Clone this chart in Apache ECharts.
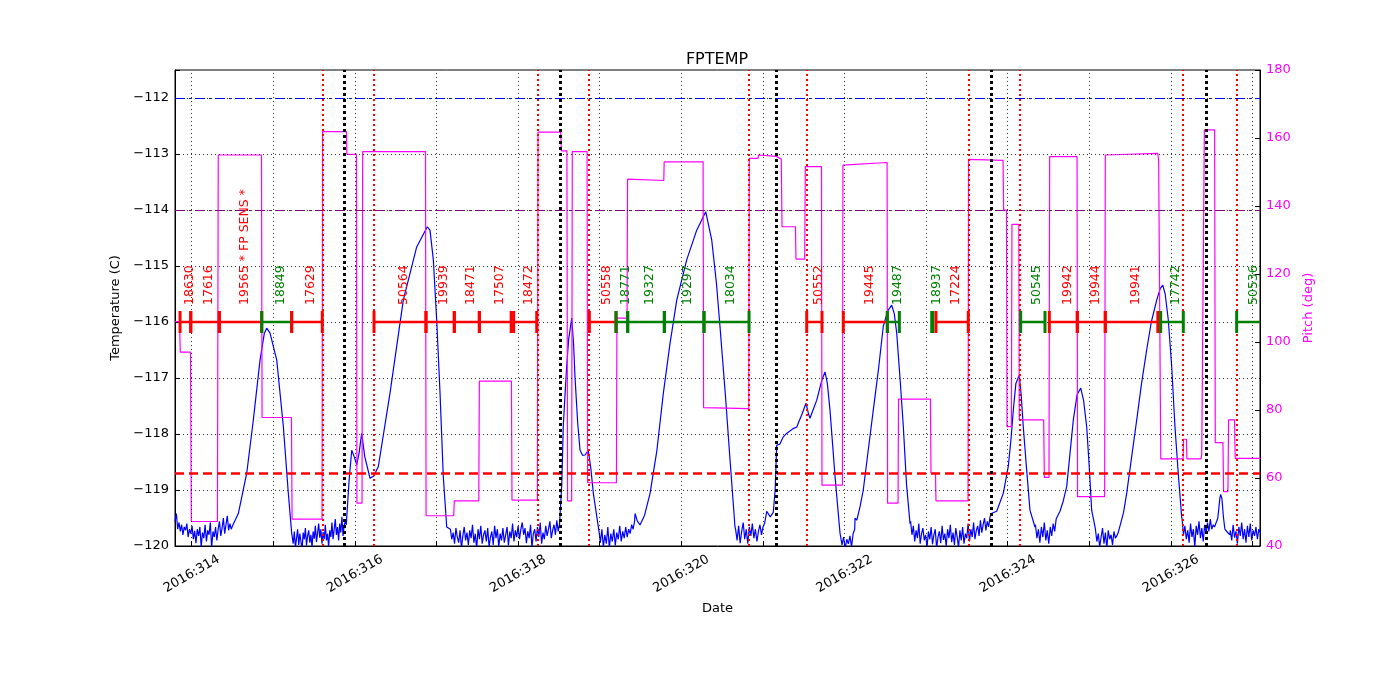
<!DOCTYPE html>
<html><head><meta charset="utf-8">
<script src="https://cdn.jsdelivr.net/npm/echarts@6/dist/echarts.min.js"></script>
<style>html,body{margin:0;padding:0;background:#fff}#c{width:1400px;height:700px}</style>
</head><body><div id="c"></div>
<script>
// ---------- axis ticks ----------
const xTickDays = [314,315,316,317,318,319,320,321,322,323,324,325,326,327];
const xLabelDays = [314,316,318,320,322,324,326];
const tempGrid = [-119,-118,-117,-116,-115,-114,-113,-112];

// ---------- reference lines ----------
const tempRefBlue = -112;
const tempRefPurple = -114;
const planLimit = -118.7;
const redEventDays = [315.600,316.234,318.238,318.873,320.833,321.537,323.517,324.150,326.152,326.806];
const blackEventDays = [315.866,318.522,321.157,323.804,326.430];

// ---------- pitch (deg) ----------
const pitch = [[313.795,106],[313.85,106],[313.86,97],[313.985,97],[313.995,47.2],[314.315,47.2],[314.325,155],[314.855,155],[314.862,77.8],[315.222,77.8],[315.23,47.9],[315.597,47.9],[315.604,161.9],[315.896,161.9],[315.902,155.2],[316.018,155.2],[316.025,52.6],[316.087,52.6],[316.095,156],[316.865,156],[316.872,48.9],[317.21,48.9],[317.218,53.3],[317.518,53.3],[317.525,88.5],[317.918,88.5],[317.925,53.5],[318.236,53.5],[318.244,161.7],[318.522,161.7],[318.53,156.2],[318.598,156.2],[318.606,53.3],[318.656,53.3],[318.664,156],[318.845,156],[318.852,58.6],[319.205,58.6],[319.211,107],[319.335,107],[319.341,147.9],[319.785,147.5],[319.79,153],[320.267,153],[320.273,80.7],[320.827,80.4],[320.833,154],[320.94,154],[320.948,155],[321.165,154.6],[321.225,153.8],[321.234,133.9],[321.399,133.9],[321.405,124.4],[321.512,124.4],[321.52,151.6],[321.718,151.6],[321.724,57.9],[321.975,57.9],[321.981,152],[322.522,152.8],[322.528,52.6],[322.656,52.6],[322.662,83.2],[323.053,83.2],[323.06,61.4],[323.115,61.4],[323.121,53.3],[323.514,53.3],[323.52,153.7],[323.943,153.4],[323.95,138.8],[323.985,138.8],[323.992,75.1],[324.045,75.1],[324.052,134.6],[324.136,134.6],[324.142,77.1],[324.441,77.1],[324.449,60.2],[324.506,60.2],[324.514,154.5],[324.85,154.5],[324.856,54.5],[325.188,54.5],[325.196,155],[325.84,155.5],[325.85,153],[325.876,65.6],[326.15,65.6],[326.155,71.4],[326.19,71.4],[326.196,65.6],[326.37,65.6],[326.378,67],[326.402,67],[326.41,162.4],[326.536,162.4],[326.544,70.4],[326.638,70.4],[326.646,56],[326.699,56],[326.707,77.1],[326.78,77.1],[326.788,65.8],[327.1,65.8]];

// ---------- temperature (C): quiet (noisy) stretches ----------
const quiet1 = [-119.55,-119.42,-119.70,-119.58,-119.74,-119.62,-119.80,-119.66,-119.72,-119.60,-119.84,-119.70,-119.78,-119.64,-119.88,-119.73,-119.95,-119.70,-119.82,-119.66,-120.02,-119.76,-119.86,-119.62,-119.92,-119.72,-119.80,-119.58,-120.04,-119.74,-119.84,-119.66,-119.90,-119.70,-119.56,-119.82,-119.68,-119.50,-119.78,-119.62,-119.46,-119.72,-119.60,-119.70,-119.64];
const quiet2 = [-119.82,-119.96,-119.74,-120.04,-119.86,-119.70,-119.98,-119.78,-119.92,-120.06,-119.76,-119.88,-119.68,-119.99,-119.82,-119.72,-119.94,-119.80,-120.03,-119.74,-119.87,-119.64,-119.93,-119.77,-119.60,-119.85,-119.70,-119.96,-119.75,-119.88,-119.62,-119.90,-119.78,-120.02,-119.72,-119.84,-119.58,-119.88,-119.70,-119.52,-119.80,-119.66,-119.90,-119.60,-119.76,-119.48,-119.82,-119.64,-119.55,-119.62];
const quiet3 = [-119.70,-119.88,-119.76,-119.96,-119.68,-119.84,-119.94,-119.72,-120.04,-119.82,-119.66,-119.90,-119.76,-119.98,-119.72,-119.86,-119.62,-119.94,-119.78,-120.05,-119.70,-119.88,-119.64,-119.96,-119.80,-119.72,-119.92,-119.68,-120.02,-119.84,-119.74,-119.98,-119.64,-119.86,-119.70,-120.02,-119.78,-119.90,-119.68,-119.94,-119.80,-119.66,-119.99,-119.74,-119.86,-119.60,-119.92,-119.72,-119.84,-119.64,-119.88,-119.70,-119.58,-119.80,-119.68,-119.95,-119.74,-119.86,-119.62,-120.03,-119.78,-119.70,-119.92,-119.66,-119.84,-119.58,-119.96,-119.76,-119.88,-119.64,-119.82,-119.70,-119.56,-119.86,-119.72,-119.62,-119.80,-119.54,-119.74,-119.60];
const quiet4 = [-119.72,-119.94,-119.70,-120.02,-119.80,-119.96,-119.66,-120.04,-119.78,-119.92,-119.70,-119.99,-119.76,-119.88,-119.64,-119.92,-119.74,-119.86,-119.66,-119.84,-119.70,-119.78,-119.62,-119.70,-119.55];
const quiet5 = [-119.70,-119.90,-119.64,-119.95,-119.74,-119.58,-119.88,-119.70,-119.96,-119.66,-119.82,-119.60,-119.86,-119.70,-119.92,-119.74,-119.62,-119.80,-119.66,-119.60];
const quiet6 = [-119.80,-119.98,-119.84,-120.05,-119.88,-119.96,-119.82,-120.02,-119.78,-119.70];
const quiet7 = [-119.56,-119.80,-119.64,-119.92,-119.72,-119.86,-119.60,-119.96,-119.78,-119.68,-119.90,-119.80,-120.02,-119.74,-119.88,-119.66,-119.97,-119.80,-119.70,-120.04,-119.84,-119.74,-119.95,-119.64,-119.89,-119.78,-120.00,-119.70,-119.86,-119.62,-119.93,-119.76,-119.98,-119.68,-119.84,-120.03,-119.72,-119.90,-119.66,-119.96,-119.78,-119.86,-119.60,-119.92,-119.70,-119.84,-119.58,-119.88,-119.72,-119.64,-119.82,-119.54,-119.76,-119.62,-119.50,-119.72,-119.56,-119.66,-119.48,-119.42];
const quiet8 = [-119.62,-119.86,-119.70,-119.94,-119.66,-119.84,-119.58,-119.90,-119.72,-119.96,-119.66,-119.82,-119.60,-119.74,-119.52,-119.50];
const quiet9 = [-119.70,-119.92,-119.78,-120.02,-119.84,-119.68,-119.96,-119.76,-120.04,-119.72,-119.88,-119.80,-119.98,-119.74,-119.86,-119.82,-119.76,-119.78];
const quiet10 = [-119.52,-119.80,-119.64,-119.88,-119.72,-119.94,-119.60,-119.84,-119.70,-120.02,-119.64,-119.80,-119.56,-119.86,-119.68,-119.92,-119.62,-119.78,-119.58,-119.74,-119.52,-119.70,-119.62,-119.66];
const quiet11 = [-119.72,-119.90,-119.62,-119.85,-119.74,-119.96,-119.66,-119.82,-119.58,-119.88,-119.70,-119.94,-119.64,-119.84,-119.60,-119.90,-119.72,-119.82,-119.66,-119.88,-119.70,-119.76];
// time spans of the quiet stretches [start, end]
const quietSpans = [[313.796,314.50],[315.23,315.895],[317.17,318.508],[318.99,319.428],[320.665,321.02],[321.95,322.125],[322.81,323.80],[324.34,324.612],[325.075,325.372],[326.137,326.535],[326.728,327.095]];

// ---------- temperature (C): warm-up excursions ----------
const rise1 = [[314.51,-119.66],[314.571,-119.42],[314.674,-118.70],[314.755,-117.75],[314.837,-116.68],[314.89,-116.20],[314.919,-116.11],[314.96,-116.2],[315.042,-116.68],[315.123,-117.87],[315.184,-119.06],[315.225,-119.77]];
const rise2 = [[315.899,-119.5],[315.93,-118.8],[315.961,-118.29],[315.99,-118.4],[316.022,-118.55],[316.05,-118.35],[316.083,-117.99],[316.12,-118.4],[316.185,-118.79],[316.23,-118.75],[316.287,-118.58],[316.43,-117.27],[316.593,-115.61],[316.757,-114.66],[316.887,-114.30],[316.92,-114.36],[316.961,-114.89],[317.002,-115.96],[317.043,-117.27],[317.083,-118.76],[317.125,-119.66]];
const rise3 = [[318.513,-119.6],[318.535,-118.9],[318.553,-117.87],[318.575,-117.3],[318.595,-116.80],[318.62,-116.3],[318.657,-115.93],[318.68,-116.4],[318.697,-116.98],[318.73,-117.8],[318.759,-118.29],[318.79,-118.38],[318.82,-118.375],[318.86,-118.29],[318.89,-118.6],[318.922,-119.06],[318.983,-119.66]];
const rise4 = [[319.433,-119.42],[319.46,-119.55],[319.494,-119.625],[319.55,-119.45],[319.617,-119.06],[319.70,-118.3],[319.78,-117.27],[319.86,-116.4],[319.944,-115.61],[320.066,-114.89],[320.189,-114.36],[320.299,-114.03],[320.373,-114.54],[320.43,-115.3],[320.474,-116.08],[320.54,-117.3],[320.597,-118.46],[320.658,-119.66]];
const rise5 = [[321.026,-119.6],[321.047,-119.38],[321.09,-119.48],[321.127,-119.40],[321.15,-119.0],[321.169,-118.20],[321.208,-118.18],[321.25,-118.05],[321.29,-117.99],[321.373,-117.90],[321.414,-117.88],[321.44,-117.78],[321.475,-117.66],[321.528,-117.45],[321.555,-117.62],[321.577,-117.72],[321.62,-117.55],[321.659,-117.40],[321.72,-117.05],[321.761,-116.89],[321.79,-117.1],[321.822,-117.57],[321.884,-118.76],[321.945,-119.77]];
const rise6 = [[322.129,-119.5],[322.15,-119.54],[322.19,-119.3],[322.23,-119.0],[322.29,-118.3],[322.353,-117.57],[322.42,-116.8],[322.475,-116.08],[322.53,-115.8],[322.578,-115.70],[322.61,-115.85],[322.64,-116.2],[322.68,-117.0],[322.721,-117.87],[322.76,-118.9],[322.803,-119.6]];
const rise7 = [[323.804,-119.39],[323.865,-119.38],[323.946,-119.06],[324.007,-118.58],[324.04,-118.1],[324.069,-117.57],[324.10,-117.1],[324.142,-116.95],[324.165,-117.3],[324.191,-117.87],[324.23,-118.6],[324.273,-119.36],[324.334,-119.66]];
const rise8 = [[324.616,-119.45],[324.641,-119.38],[324.68,-119.2],[324.723,-118.94],[324.76,-118.4],[324.804,-117.75],[324.85,-117.3],[324.895,-117.18],[324.93,-117.4],[324.968,-117.87],[325.0,-118.6],[325.029,-119.36],[325.070,-119.66]];
const rise9 = [[325.377,-119.74],[325.42,-119.4],[325.458,-119.06],[325.52,-118.4],[325.581,-117.75],[325.64,-117.1],[325.703,-116.5],[325.76,-116.0],[325.826,-115.61],[325.87,-115.4],[325.90,-115.34],[325.93,-115.5],[325.968,-115.96],[326.01,-116.8],[326.05,-117.87],[326.09,-118.7],[326.132,-119.48]];
const rise10 = [[326.540,-119.68],[326.575,-119.5],[326.60,-119.15],[326.61,-119.08],[326.625,-119.15],[326.645,-119.5],[326.662,-119.7],[326.69,-119.75],[326.723,-119.8]];

// ---------- observations ----------
const obsIds = ['18630','17616','19565 * FP SENS *','18849','17629','50564','19939','18471','17507','18472','50558','18771','19327','19297','18034','50552','19445','19487','18937','17224','50545','19942','19944','19941','17742','50536'];
const obsStart = [313.857,313.988,314.338,314.858,315.225,316.234,316.871,317.218,317.525,317.945,318.873,319.200,319.343,319.792,320.278,321.537,321.985,322.525,323.069,323.121,324.159,324.510,324.853,325.196,325.875,326.806];
const obsStop  = [313.988,314.338,314.858,315.225,315.600,316.871,317.218,317.525,317.915,318.228,319.200,319.343,319.792,320.278,320.830,321.724,322.525,322.672,323.082,323.517,324.457,324.853,325.196,325.840,326.152,327.116];
const obsKind  = ['A','A','A','B','A','A','A','A','A','A','A','B','B','B','B','A','A','B','B','A','B','A','A','A','B','B'];
const obsLevel = -116;

// ---------- build ----------
function spread(span, vals){ return vals.map((v,i)=>[span[0]+(span[1]-span[0])*i/(vals.length-1), v]); }
const quiets = [quiet1,quiet2,quiet3,quiet4,quiet5,quiet6,quiet7,quiet8,quiet9,quiet10,quiet11];
const rises = [rise1,rise2,rise3,rise4,rise5,rise6,rise7,rise8,rise9,rise10];
let tempTrace = [];
for (let i=0;i<quiets.length;i++){
  tempTrace = tempTrace.concat(spread(quietSpans[i], quiets[i]));
  if (i<rises.length) tempTrace = tempTrace.concat(rises[i]);
}

const FONT = 'DejaVu Sans';
const gridStyle = {color:'#000', width:0.8, type:[1,3]};
const kindColor = {A:'#ff0000', B:'#008000'};
const minus = v => String(v).replace('-', '\u2212');

const chart = echarts.init(document.getElementById('c'), null, {renderer:'canvas'});
chart.setOption({
  animation:false,
  backgroundColor:'#fff',
  textStyle:{fontFamily:FONT},
  title:{text:'FPTEMP', left:712, top:47, textAlign:'center', textStyle:{fontFamily:FONT, fontSize:16, fontWeight:'normal', color:'#000'}},
  grid:{left:175, right:140, top:70, bottom:154, show:true, borderColor:'#000', borderWidth:1, backgroundColor:'transparent'},
  xAxis:{type:'value', min:313.795, max:327.092,
    name:'Date', nameLocation:'middle', nameGap:56, nameTextStyle:{fontFamily:FONT, fontSize:13, color:'#000'},
    axisLine:{lineStyle:{color:'#000', width:1}},
    axisTick:{inside:true, length:5, customValues:xTickDays, lineStyle:{color:'#000'}},
    axisLabel:{customValues:xLabelDays, formatter:v=>'2016:'+Math.round(v), rotate:30, align:'center', verticalAlign:'middle', margin:28, fontFamily:FONT, fontSize:13, color:'#000'},
    splitLine:{show:false}},
  yAxis:[
    {type:'value', min:-120, max:-111.5, interval:1, position:'left',
     name:'Temperature (C)', nameLocation:'middle', nameRotate:90, nameGap:50, nameTextStyle:{fontFamily:FONT, fontSize:13, color:'#000'},
     axisLine:{show:true, lineStyle:{color:'#000'}},
     axisTick:{show:true, inside:true, length:5, lineStyle:{color:'#000'}},
     axisLabel:{formatter:v=>Number.isInteger(v)?minus(v):'', margin:6, fontFamily:FONT, fontSize:13, color:'#000'},
     splitLine:{show:false}},
    {type:'value', min:40, max:180, interval:20, position:'right',
     name:'Pitch (deg)', nameLocation:'middle', nameRotate:90, nameGap:30, nameTextStyle:{fontFamily:FONT, fontSize:13, color:'#ff00ff'},
     axisLine:{show:true, lineStyle:{color:'#000'}},
     axisTick:{show:true, inside:true, length:5, lineStyle:{color:'#000'}},
     axisLabel:{margin:6, fontFamily:FONT, fontSize:13, color:'#ff00ff'},
     splitLine:{show:false}}
  ],
  series:[
    {type:'line', data:[], yAxisIndex:0, silent:true,
     markLine:{silent:true, symbol:'none', label:{show:false}, lineStyle:gridStyle,
       data: xTickDays.map(d=>({xAxis:d})).concat(tempGrid.map(t=>({yAxis:t})))}},
    {type:'line', name:'FPTEMP', data:tempTrace, yAxisIndex:0, showSymbol:false, symbol:'none', clip:true,
     lineStyle:{color:'#0000ff', width:1.2}, z:3},
    {type:'line', name:'Pitch', data:pitch, yAxisIndex:1, showSymbol:false, symbol:'none', clip:true,
     lineStyle:{color:'#ff00ff', width:1.2}, z:4},
    {type:'line', data:[], yAxisIndex:0, silent:true, z:5,
     markLine:{silent:true, symbol:'none', label:{show:false},
       data: [
         {yAxis:tempRefBlue, lineStyle:{color:'#0000ff', width:1, type:[10,4,2,4]}},
         {yAxis:tempRefPurple, lineStyle:{color:'#800080', width:1, type:[10,4,2,4]}},
         {yAxis:planLimit, lineStyle:{color:'#ff0000', width:2.5, type:[9,5]}}
       ].concat(redEventDays.map(d=>({xAxis:d, lineStyle:{color:'#ff0000', width:2, type:[2,3]}})))
        .concat(blackEventDays.map(d=>({xAxis:d, lineStyle:{color:'#000', width:3, type:[3,3]}})))}},
    {type:'custom', yAxisIndex:0, clip:true, z:6, silent:true,
     data: obsIds.map((id,i)=>[obsStart[i], obsStop[i], obsLevel]),
     renderItem:function(params, api){
       const i = params.dataIndex;
       const s = api.coord([api.value(0), api.value(2)]);
       const e = api.coord([api.value(1), api.value(2)]);
       const col = kindColor[obsKind[i]];
       return {type:'group', children:[
         {type:'line', shape:{x1:s[0], y1:s[1], x2:e[0], y2:e[1]}, style:{stroke:col, lineWidth:2.5}},
         {type:'rect', shape:{x:s[0]-1.5, y:s[1]-11, width:3, height:22}, style:{fill:col}},
         {type:'rect', shape:{x:e[0]-1.5, y:e[1]-11, width:3, height:22}, style:{fill:col}},
         {type:'text', x:(s[0]+e[0])/2+4, y:s[1]-17, rotation:Math.PI/2,
          style:{text:obsIds[i], fill:col, font:'12.5px "DejaVu Sans"', align:'left', verticalAlign:'middle'}}
       ]};
     }}
  ]
});
</script></body></html>
